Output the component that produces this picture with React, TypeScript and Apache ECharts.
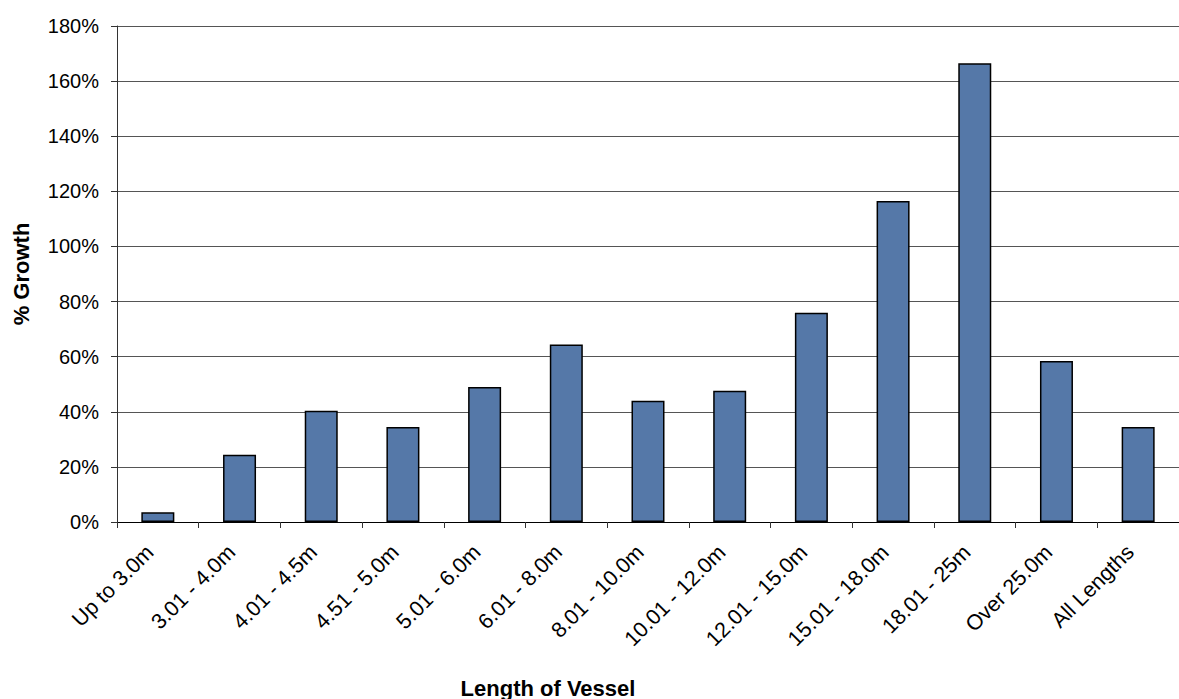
import React, { useEffect, useRef } from "react";
import * as echarts from "echarts";

const categories = [
  "Up to 3.0m",
  "3.01 - 4.0m",
  "4.01 - 4.5m",
  "4.51 - 5.0m",
  "5.01 - 6.0m",
  "6.01 - 8.0m",
  "8.01 - 10.0m",
  "10.01 - 12.0m",
  "12.01 - 15.0m",
  "15.01 - 18.0m",
  "18.01 - 25m",
  "Over 25.0m",
  "All Lengths",
];
const growthPct = [3.5, 24.4, 40.4, 34.5, 49.0, 64.4, 44.0, 47.6, 75.9, 116.5, 166.5, 58.4, 34.5];
const yTitle = "% Growth";
const xTitle = "Length of Vessel";

const FONT = "'Liberation Sans', Arial, sans-serif";

export default function App() {
  const ref = useRef<HTMLDivElement>(null);
  useEffect(() => {
    if (!ref.current) return;
    const chart = echarts.init(ref.current, null, { renderer: "svg" });
    chart.setOption({
      animation: false,
      backgroundColor: "#ffffff",
      grid: { left: 117, top: 26, bottom: 177, right: -12, containLabel: false },
      xAxis: {
        type: "category",
        data: categories,
        axisLine: { lineStyle: { color: "#000", width: 1 } },
        axisTick: { show: true, length: 6, lineStyle: { color: "#333" } },
        axisLabel: {
          rotate: 45,
          interval: 0,
          margin: 19,
          padding: [0, 11, 0, 0],
          color: "#000",
          fontSize: 21.5,
          fontFamily: FONT,
        },
        splitLine: { show: false },
      },
      yAxis: {
        type: "value",
        min: 0,
        max: 180,
        interval: 20,
        axisLine: { show: true, lineStyle: { color: "#333", width: 1 } },
        axisTick: { show: true, length: 6, lineStyle: { color: "#333" } },
        axisLabel: {
          formatter: "{value}%",
          margin: 18,
          color: "#000",
          fontSize: 20,
          fontFamily: FONT,
        },
        splitLine: { show: true, lineStyle: { color: "#555", width: 1 } },
      },
      series: [
        {
          type: "bar",
          data: growthPct,
          barWidth: 33,
          itemStyle: { color: "#5578A8", borderColor: "#000", borderWidth: 1.5 },
        },
      ],
      graphic: [
        {
          type: "text",
          x: 21,
          y: 274,
          rotation: Math.PI / 2,
          style: {
            text: yTitle,
            align: "center",
            verticalAlign: "middle",
            font: `bold 22px ${FONT}`,
            fill: "#000",
          },
        },
        {
          type: "text",
          x: 548,
          y: 688,
          style: {
            text: xTitle,
            align: "center",
            verticalAlign: "middle",
            font: `bold 22px ${FONT}`,
            fill: "#000",
          },
        },
      ],
    });
    return () => chart.dispose();
  }, []);
  return <div ref={ref} style={{ width: 1179, height: 699, position: "absolute", left: 0, top: 0 }} />;
}
